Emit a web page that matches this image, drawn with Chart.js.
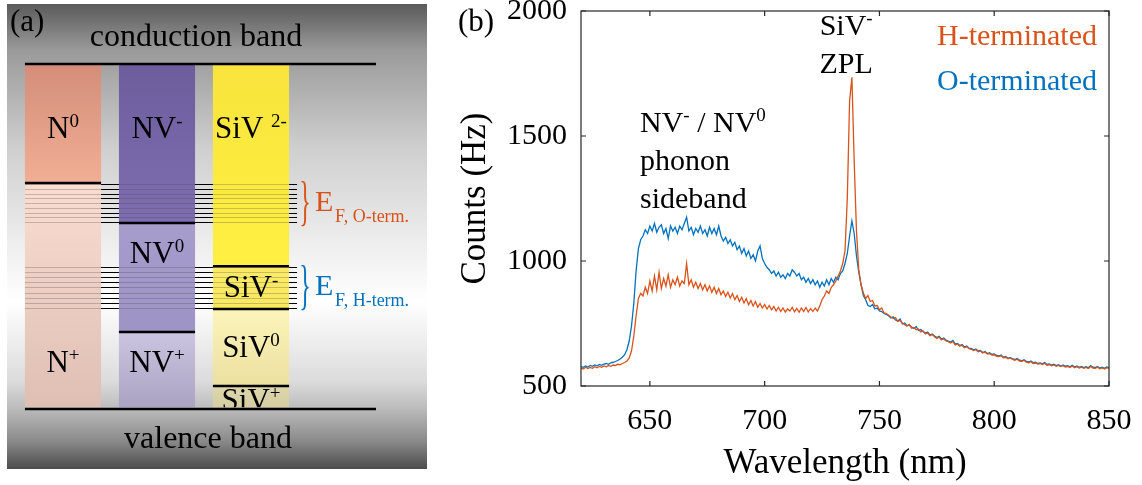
<!DOCTYPE html>
<html><head><meta charset="utf-8">
<script src="https://cdn.jsdelivr.net/npm/chart.js@4.4.1/dist/chart.umd.min.js"></script>
<style>
html,body{margin:0;padding:0;background:#fff;}
#wrap{position:relative;width:1142px;height:485px;overflow:hidden;background:#fff;}
#pa{position:absolute;left:0;top:0;}
#pb{position:absolute;left:440px;top:0;}
</style></head><body>
<div id="wrap"><canvas id="pa" width="440" height="485"></canvas><canvas id="pb" width="702" height="485"></canvas></div>
<script>
// ---------- Panel (a) data: defect charge-state energy ranges (valence band = 0, conduction band = 100) ----------
const defects = ['N', 'NV', 'SiV'];
const stateDefect = [0, 0, 1, 1, 1, 2, 2, 2, 2];
const stateBase = ['N', 'N', 'NV', 'NV', 'NV', 'SiV', 'SiV', 'SiV', 'SiV'];
const stateCharge = ['0', '+', '-', '0', '+', '2-', '-', '0', '+'];
const stateLow  = [65.5, 0.5, 53.9, 22.3, 0.5, 41.4, 29.0, 6.7, 0.5];
const stateHigh = [100, 65.5, 100, 53.9, 22.3, 100, 41.4, 29.0, 6.7];
const stateLabelE = [81.4, 13.6, 81.4, 45.2, 13.6, 81.4, 35.4, 18.0, 2.6];
const conductionBand = 100;
const valenceBand = 0;
const fermiO = [54.2, 65.2];
const fermiH = [29.3, 41.2];
const fermiLineCount = 9;

// ---------- Panel (b) data ----------
const wavelength = [
620,621,622,623,624,625,626,627,628,629,630,631,632,633,634,635,636,637,638,639,
640,641,642,643,644,645,646,647,648,649,650,651,652,653,654,655,656,657,658,659,
660,661,662,663,664,665,666,667,668,669,670,671,672,673,674,675,676,677,678,679,
680,681,682,683,684,685,686,687,688,689,690,691,692,693,694,695,696,697,698,699,
700,701,702,703,704,705,706,707,708,709,710,711,712,713,714,715,716,717,718,719,
720,721,722,723,724,725,726,727,728,729,730,731,732,733,734,735,736,737,738,739,
740,741,742,743,744,745,746,747,748,749,750,751,752,753,754,755,756,757,758,759,
760,761,762,763,764,765,766,767,768,769,770,771,772,773,774,775,776,777,778,779,
780,781,782,783,784,785,786,787,788,789,790,791,792,793,794,795,796,797,798,799,
800,801,802,803,804,805,806,807,808,809,810,811,812,813,814,815,816,817,818,819,
820,821,822,823,824,825,826,827,828,829,830,831,832,833,834,835,836,837,838,839,
840,841,842,843,844,845,846,847,848,849,850];
const countsH = [
572,568,575,570,574,571,577,573,578,575, 580,577,582,579,584,582,587,585,590,594,
600,612,640,700,780,850,870,860,895,870, 920,880,940,885,955,890,930,900,945,895,
925,905,935,900,920,910,990,905,925,895, 915,890,910,885,905,880,900,875,895,870,
890,865,880,858,875,852,870,845,862,838, 855,832,850,825,842,820,838,815,830,812,
826,808,822,805,818,800,815,798,812,796, 808,800,815,797,810,795,812,798,814,796,
810,798,812,800,820,845,860,880,870,895, 905,920,940,960,990,1040,1250,1640,1735,1400,
1120,965,905,872,850,862,838,842,820,822, 805,812,792,790,783,776,770,774,758,762,
752,745,740,746,731,734,725,728,716,720, 708,712,701,706,697,690,696,684,689,680,
677,672,678,664,668,659,663,653,657,649, 647,642,645,637,640,632,635,628,630,624,
625,619,618,621,613,615,609,612,606,603, 607,600,599,602,595,593,597,590,592,588,
590,586,591,583,585,581,584,579,582,578, 581,576,578,574,580,573,577,572,575,571,
574,570,578,572,571,575,569,572,568,573, 570];
const countsO = [
578,575,580,576,582,579,584,581,586,583, 588,590,587,593,595,598,602,608,615,625,
645,680,740,830,960,1050,1085,1100,1125,1110, 1140,1120,1150,1115,1135,1145,1110,1130,1090,1140,
1120,1135,1110,1140,1125,1150,1175,1120,1135,1105, 1130,1115,1140,1110,1125,1100,1135,1110,1130,1105,
1140,1100,1080,1095,1070,1085,1060,1075,1045,1060, 1030,1050,1020,1040,1010,1025,1000,1040,1060,1010,
990,975,965,950,960,940,955,935,945,930, 950,940,965,955,940,950,925,935,915,930,
910,925,905,920,895,915,900,925,905,930, 915,935,925,950,960,990,1030,1100,1160,1110,
1020,955,905,862,845,822,818,826,808,812, 800,798,790,786,781,772,777,764,760,768,
748,752,741,744,736,730,738,722,726,718, 712,716,704,708,700,694,699,688,692,684,
680,676,682,668,670,662,666,656,660,651, 650,645,648,640,642,634,638,630,633,626,
628,622,620,624,615,618,611,614,608,606, 610,603,601,605,598,596,600,593,595,590,
592,589,594,586,588,584,587,582,585,580, 584,579,581,577,583,576,580,575,578,574,
577,573,582,575,574,578,572,575,571,576, 573];
const xTicks = [650, 700, 750, 800, 850];
const yTicks = [500, 1000, 1500, 2000];
const seriesLabels = ['H-terminated', 'O-terminated'];
const annotations = [
  {base: 'SiV', sup: '-', x: 735.5, y: 1904, align: 'center'},
  {base: 'ZPL', sup: '', x: 735.5, y: 1752, align: 'center'},
  {base: 'NV', sup: '-', rest: ' / NV', sup2: '0', x: 645.7, y: 1516, align: 'left'},
  {base: 'phonon', sup: '', x: 645.7, y: 1364, align: 'left'},
  {base: 'sideband', sup: '', x: 645.7, y: 1212, align: 'left'}
];

// ---------- styles ----------
const FAMILY = '"Liberation Serif", "Times New Roman", serif';
const FONT = FAMILY;
Chart.defaults.font.family = FAMILY;
const colH = '#D95319', colO = '#0072BD';
const stateColorTop = ['#D38D79','#FADCD0','#6D5D9D','#A69DCD','#CBC5E0','#F8E43C','#FBEA66','#FCF4BA','#DDD6AC'];
const stateColorBot = ['#F2AE95','#DFBFB4','#7E6EB1','#9D94C5','#AAA3C2','#FFF042','#FAE860','#ECE0A0','#D6CEA2'];

function rich(ctx, parts, x, yBase, size, align, color) {
  const ss = Math.round(size * 0.62);
  let total = 0;
  const widths = parts.map(p => { ctx.font = (p[1] ? ss : size) + 'px ' + FONT; const w = ctx.measureText(p[0]).width; total += w; return w; });
  let x0 = align === 'center' ? x - total / 2 : (align === 'right' ? x - total : x);
  ctx.textAlign = 'left'; ctx.textBaseline = 'alphabetic'; ctx.fillStyle = color || '#000';
  parts.forEach((p, k) => {
    ctx.font = (p[1] ? ss : size) + 'px ' + FONT;
    ctx.fillText(p[0], x0, p[1] ? yBase - size * 0.36 : yBase);
    x0 += widths[k];
  });
}

function gradFor(chart, i) {
  const ca = chart.chartArea;
  if (!ca) return stateColorTop[i];
  const y = chart.scales.y;
  const g = chart.ctx.createLinearGradient(0, y.getPixelForValue(stateHigh[i]), 0, y.getPixelForValue(stateLow[i]));
  g.addColorStop(0, stateColorTop[i]); g.addColorStop(1, stateColorBot[i]);
  return g;
}

const bandPlugin = {
  id: 'bandDiagram',
  beforeDraw(chart) {
    const c = chart.ctx; c.save();
    const g = c.createLinearGradient(0, 4, 0, 469);
    g.addColorStop(0, '#5a5a5a'); g.addColorStop(0.1, '#9a9a9a'); g.addColorStop(0.31, '#cfcfcf');
    g.addColorStop(0.53, '#f0f0f0'); g.addColorStop(0.64, '#ffffff'); g.addColorStop(0.81, '#dcdcdc');
    g.addColorStop(0.87, '#bcbcbc'); g.addColorStop(0.94, '#8a8a8a'); g.addColorStop(1, '#4c4c4c');
    c.fillStyle = g; c.fillRect(7, 4, 420, 465);
    c.restore();
  },
  afterDatasetsDraw(chart) {
    const c = chart.ctx, y = chart.scales.y, ca = chart.chartArea;
    const cols = defects.map((d, j) => {
      const i = stateDefect.indexOf(j);
      const el = chart.getDatasetMeta(i).data[j];
      return {l: el.x - el.width / 2, r: el.x + el.width / 2, x: el.x};
    });
    c.save();
    const stripeEnd = cols[2].r + 8;
    [fermiO, fermiH].forEach(rng => {
      for (let k = 0; k < fermiLineCount; k++) {
        const e = rng[0] + (rng[1] - rng[0]) * k / (fermiLineCount - 1);
        const py = Math.round(y.getPixelForValue(e)) + 0.5;
        c.lineWidth = 1;
        c.strokeStyle = 'rgba(70,70,70,0.28)';
        c.beginPath(); c.moveTo(cols[0].l, py); c.lineTo(stripeEnd, py); c.stroke();
        c.strokeStyle = '#000';
        c.beginPath();
        c.moveTo(cols[0].r, py); c.lineTo(cols[1].l, py);
        c.moveTo(cols[1].r, py); c.lineTo(cols[2].l, py);
        c.moveTo(cols[2].r, py); c.lineTo(stripeEnd, py);
        c.stroke();
      }
    });
    c.strokeStyle = '#000'; c.lineWidth = 2.5;
    stateLow.forEach((lo, i) => {
      if (lo > valenceBand + 1) {
        const col = cols[stateDefect[i]], py = y.getPixelForValue(lo);
        c.beginPath(); c.moveTo(col.l, py); c.lineTo(col.r, py); c.stroke();
      }
    });
    const bandEnd = ca.right + 78;
    [conductionBand, valenceBand].forEach(e => {
      const py = y.getPixelForValue(e);
      c.beginPath(); c.moveTo(cols[0].l, py); c.lineTo(bandEnd, py); c.stroke();
    });
    stateBase.forEach((b, i) => {
      const col = cols[stateDefect[i]];
      c.save();
      c.beginPath();
      c.rect(col.l, y.getPixelForValue(stateHigh[i]), col.r - col.l, y.getPixelForValue(stateLow[i]) - y.getPixelForValue(stateHigh[i]));
      c.clip();
      const parts = stateCharge[i] === '2-' ? [[b + ' ', false], [stateCharge[i], true]] : [[b, false], [stateCharge[i], true]];
      rich(c, parts, col.x, y.getPixelForValue(stateLabelE[i]) + 10, 31, 'center', '#000');
      c.restore();
    });
    [[fermiO, colH, 'F, O-term.'], [fermiH, colO, 'F, H-term.']].forEach(([rng, col, sub]) => {
      const mid = y.getPixelForValue((rng[0] + rng[1]) / 2);
      c.save();
      c.fillStyle = col;
      c.translate(stripeEnd + 8, mid + 1);
      c.scale(0.5, 1.15);
      c.font = '48px ' + FONT; c.textAlign = 'center'; c.textBaseline = 'middle';
      c.fillText('}', 0, 0);
      c.restore();
      c.fillStyle = col; c.textAlign = 'left'; c.textBaseline = 'alphabetic';
      c.font = '30px ' + FONT; c.fillText('E', stripeEnd + 18, mid + 8);
      c.font = '18px ' + FONT; c.fillText(sub, stripeEnd + 38, mid + 19);
    });
    c.fillStyle = '#000'; c.textAlign = 'center'; c.textBaseline = 'alphabetic';
    c.font = '32px ' + FONT;
    c.fillText('conduction band', 196, y.getPixelForValue(conductionBand) - 18);
    c.fillText('valence band', 208, y.getPixelForValue(valenceBand) + 39);
    c.textAlign = 'left'; c.font = '31px ' + FONT;
    c.fillText('(a)', 10, 31);
    c.restore();
  }
};

new Chart(document.getElementById('pa'), {
  type: 'bar',
  data: {
    labels: defects,
    datasets: stateBase.map((b, i) => ({
      label: b + stateCharge[i],
      data: defects.map((d, j) => j === stateDefect[i] ? [stateLow[i], stateHigh[i]] : null),
      backgroundColor: (ctx) => gradFor(ctx.chart, i),
      borderWidth: 0,
      grouped: false,
      barPercentage: 0.81,
      categoryPercentage: 1
    }))
  },
  options: {
    responsive: false, animation: false,
    layout: {padding: {left: 16, right: 142, top: 0, bottom: 0}},
    plugins: {legend: {display: false}, tooltip: {enabled: false}},
    scales: {
      x: {display: false},
      y: {display: false, min: -22.03, max: 118.55}
    }
  },
  plugins: [bandPlugin]
});

// ---------- Panel (b) ----------
const boxPlugin = {
  id: 'matlabBox',
  afterDraw(chart) {
    const c = chart.ctx, ca = chart.chartArea, xs = chart.scales.x, ys = chart.scales.y;
    c.save();
    c.strokeStyle = '#262626'; c.lineWidth = 1.2;
    c.strokeRect(ca.left, ca.top, ca.right - ca.left, ca.bottom - ca.top);
    c.beginPath();
    xTicks.forEach(v => { const px = xs.getPixelForValue(v); c.moveTo(px, ca.bottom); c.lineTo(px, ca.bottom - 5); c.moveTo(px, ca.top); c.lineTo(px, ca.top + 5); });
    yTicks.forEach(v => { const py = ys.getPixelForValue(v); c.moveTo(ca.left, py); c.lineTo(ca.left + 5, py); c.moveTo(ca.right, py); c.lineTo(ca.right - 5, py); });
    c.stroke();
    c.textAlign = 'right'; c.textBaseline = 'alphabetic'; c.font = '30px ' + FONT;
    chart.data.datasets.forEach((ds, k) => {
      c.fillStyle = ds.borderColor;
      c.fillText(ds.label, ca.right - 12, ca.top + 34 + k * 45);
    });
    annotations.forEach(a => {
      const parts = [[a.base, false]];
      if (a.sup) parts.push([a.sup, true]);
      if (a.rest) parts.push([a.rest, false]);
      if (a.sup2) parts.push([a.sup2, true]);
      rich(c, parts, xs.getPixelForValue(a.x), ys.getPixelForValue(a.y), 30, a.align, '#000');
    });
    c.fillStyle = '#000'; c.textAlign = 'left'; c.font = '31px ' + FONT;
    c.fillText('(b)', 18, 31);
    c.restore();
  }
};

const tickFont = {family: FAMILY, size: 30};
const titleFont = {family: FAMILY, size: 35};

new Chart(document.getElementById('pb'), {
  type: 'line',
  data: {
    datasets: [
      {label: seriesLabels[0], data: wavelength.map((w, i) => ({x: w, y: countsH[i]})), borderColor: colH, borderWidth: 1.3, pointRadius: 0, tension: 0, order: 0},
      {label: seriesLabels[1], data: wavelength.map((w, i) => ({x: w, y: countsO[i]})), borderColor: colO, borderWidth: 1.3, pointRadius: 0, tension: 0, order: 1}
    ]
  },
  options: {
    responsive: false, animation: false,
    layout: {padding: {left: 0, right: 33, top: 11, bottom: 0}},
    plugins: {legend: {display: false}, tooltip: {enabled: false}},
    scales: {
      x: {
        type: 'linear', min: 620, max: 850,
        afterBuildTicks: s => { s.ticks = xTicks.map(v => ({value: v})); },
        grid: {display: false, drawTicks: false}, border: {display: false},
        ticks: {font: tickFont, color: '#000', padding: 17, maxRotation: 0, autoSkip: false, callback: v => String(v)},
        title: {display: true, text: 'Wavelength (nm)', font: titleFont, color: '#000', padding: {top: 2, bottom: 0}},
        afterFit: s => { s.height = 99; s.paddingLeft = 0; s.paddingRight = 0; }
      },
      y: {
        type: 'linear', min: 500, max: 2000,
        afterBuildTicks: s => { s.ticks = yTicks.map(v => ({value: v})); },
        grid: {display: false, drawTicks: false}, border: {display: false},
        ticks: {font: tickFont, color: '#000', padding: 14, autoSkip: false, callback: v => String(v)},
        title: {display: true, text: 'Counts (Hz)', font: titleFont, color: '#000', padding: {top: 15, bottom: 0}},
        afterFit: s => { s.width = 141; s.paddingTop = 0; s.paddingBottom = 0; }
      }
    }
  },
  plugins: [boxPlugin]
});
</script></body></html>
